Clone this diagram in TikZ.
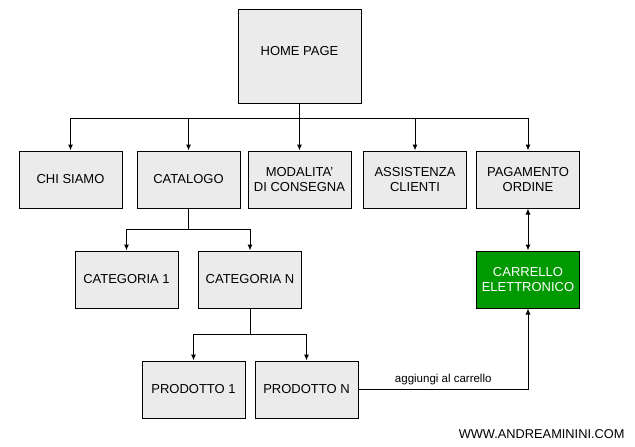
\documentclass[tikz,border=0pt]{standalone}
\usepackage{fontspec}
\setmainfont{Liberation Sans}
\usetikzlibrary{positioning,arrows.meta,calc}
\definecolor{boxgray}{RGB}{235,235,235}
\definecolor{cartgreen}{RGB}{0,153,0}

\begin{document}
\begin{tikzpicture}[x=1pt, y=-1pt, line width=1pt,
    page/.style={draw, rectangle, minimum width=103pt, minimum height=57pt, fill=boxgray, align=center, inner sep=2pt, font=\fontsize{13}{15}\selectfont},
    arr/.style={-{Latex[length=6pt,width=5pt]}}]
\useasboundingbox (0,0) rectangle (635,447);

% Home
\node[page, minimum width=123pt, minimum height=94pt] (home) at (299.5,56) {\raisebox{10pt}{HOME PAGE}};

% First level
\node[page] (chi) at (70.5,179.5) {CHI SIAMO};
\node[page] (cat) at (188.5,179.5) {CATALOGO};
\node[page] (mod) at (299.5,179.5) {MODALITA'\\DI CONSEGNA};
\node[page] (ass) at (415,179.5) {ASSISTENZA\\CLIENTI};
\node[page] (pag) at (528,179.5) {PAGAMENTO\\ORDINE};

% Categories
\node[page] (cat1) at (126.5,279.5) {CATEGORIA 1};
\node[page] (catn) at (250,279.5) {CATEGORIA N};

% Products
\node[page] (prod1) at (193.5,389.5) {PRODOTTO 1};
\node[page] (prodn) at (306.5,389.5) {PRODOTTO N};

% Cart
\node[page, fill=cartgreen, text=white] (cart) at (528,279.5) {CARRELLO\\ELETTRONICO};

% Arrows
\coordinate (bus) at (299.5,118);
\draw[arr] (home) -- (mod);
\draw[arr] (bus) -| (chi.north);
\draw[arr] (bus) -| (cat.north);
\draw[arr] (bus) -| (ass.north);
\draw[arr] (bus) -| (pag.north);

\coordinate (catsplit) at (188.5,229);
\draw (cat) -- (catsplit);
\draw[arr] (catsplit) -| (cat1.north);
\draw[arr] (catsplit) -| (catn.north);

\coordinate (prodsplit) at (250,334);
\draw (catn) -- (prodsplit);
\draw[arr] (prodsplit) -| (prod1.north);
\draw[arr] (prodsplit) -| (prodn.north);

\draw[{Latex[length=6pt,width=5pt]}-{Latex[length=6pt,width=5pt]}] (pag) -- (cart);
\draw[arr] (prodn.east) -| node[above, pos=0.25, yshift=1pt, font=\fontsize{11.5}{13}\selectfont] {aggiungi al carrello} (cart.south);

% Watermark
\node[anchor=east, inner sep=0pt, font=\fontsize{12.8}{14}\selectfont] (site) at (625,434) {WWW.ANDREAMININI.COM};

\end{tikzpicture}
\end{document}
